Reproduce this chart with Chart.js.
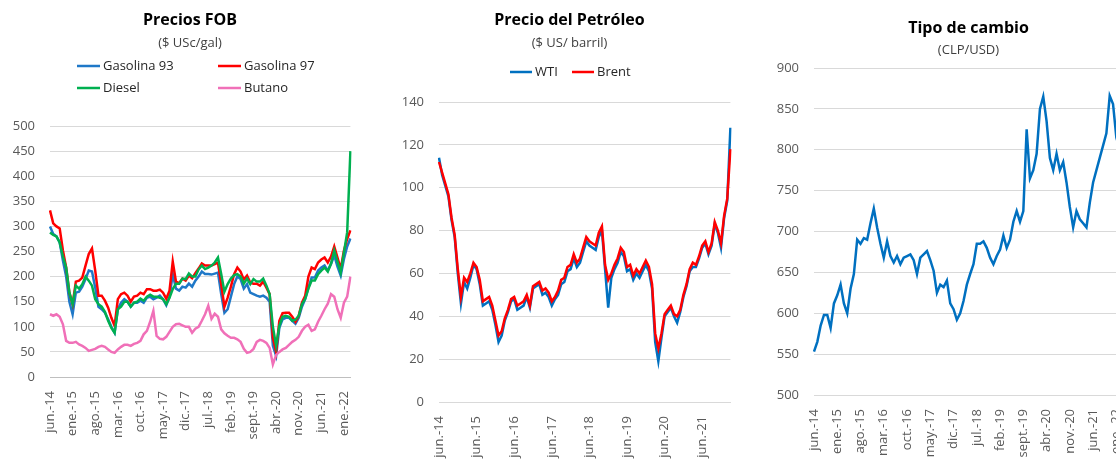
<!DOCTYPE html>
<html><head><meta charset="utf-8">
<script src="https://cdn.jsdelivr.net/npm/chart.js@4/dist/chart.umd.min.js"></script>
<style>
html,body{margin:0;padding:0;width:1116px;height:460px;overflow:hidden;background:#fff;}
canvas{position:absolute;top:0;}
#c1{left:0}#c2{left:380px}#c3{left:750px}
</style></head><body>
<canvas id="c1" width="380" height="460"></canvas>
<canvas id="c2" width="380" height="460"></canvas>
<canvas id="c3" width="424" height="460"></canvas>
<script>
// ---- categories (monthly, jun-14 .. mar-22) ----
const MESES = ['ene.','feb.','mar.','abr.','may.','jun.','jul.','ago.','sept.','oct.','nov.','dic.'];
const fechas = [];
for (let k = 0; k < 94; k++) { const m = (5 + k) % 12, a = 14 + Math.floor((5 + k) / 12); fechas.push(MESES[m] + '-' + a); }

// ---- Precios FOB (USc/gal) ----
const gasolina93 = [300,285,280,268,232,200,150,125,168,170,
 180,195,212,210,178,140,135,128,115,100,
 88,135,148,155,150,140,148,148,152,148,
 158,160,155,158,162,155,143,160,205,176,
 172,180,178,186,180,192,200,210,205,205,
 204,206,208,165,128,135,160,185,200,195,
 176,185,168,165,162,160,162,158,150,62,
 42,98,115,118,118,112,106,118,140,155,
 178,198,198,212,218,222,212,225,242,220,
 202,235,260,276];
const gasolina97 = [332,306,300,296,252,218,168,145,190,192,
 198,222,245,256,212,162,162,152,138,118,
 102,155,165,168,162,150,160,162,168,165,
 175,175,172,172,174,168,156,172,230,190,
 187,196,192,202,197,207,216,226,222,222,
 222,225,228,185,140,158,180,205,218,210,
 194,202,188,186,186,182,190,178,165,78,
 50,112,127,128,128,120,110,122,148,162,
 200,218,215,228,234,238,228,240,260,238,
 215,252,275,292];
const diesel = [288,283,280,268,240,218,168,145,182,176,
 185,200,192,182,155,145,140,130,112,98,
 88,135,140,150,150,140,148,150,156,152,
 160,164,160,160,158,155,145,158,175,186,
 186,196,195,206,200,200,214,222,215,218,
 222,228,238,205,170,185,196,203,205,200,
 186,196,185,195,190,190,196,182,165,100,
 62,102,120,122,120,112,114,122,145,156,
 176,192,192,205,212,218,210,226,252,230,
 208,248,288,450];
const butano = [125,122,125,120,105,72,68,68,70,65,
 62,58,52,54,56,60,62,60,55,50,
 48,55,60,64,64,62,66,68,72,85,
 92,110,132,82,76,75,80,90,100,105,
 106,103,100,100,88,96,100,112,125,142,
 116,126,120,95,87,82,78,78,75,70,
 56,48,50,56,70,74,72,68,58,25,
 44,50,55,58,64,70,74,80,92,100,
 104,92,95,110,122,135,146,165,160,135,
 118,148,160,200];

// ---- Precio del Petróleo (US$/barril) ----
const wti = [114,106,101,96,85,77,60,46,56,53,
 58,64,62,55,45,46,47,43,36,28,
 31,38,42,47,48,43,44,45,49,44,
 53,54,55,50,51,49,45,48,50,55,
 56,61,62,67,63,65,70,75,73,72,
 71,77,80,62,44,58,62,65,70,68,
 61,62,57,60,58,61,64,61,53,28,
 19,30,40,42,44,40,37,42,49,54,
 61,63,63,67,72,74,69,73,83,79,
 72,86,94,128];
const brent = [112,107,102,97,86,78,62,49,58,56,
 60,65,63,57,47,48,49,45,38,31,
 33,39,43,48,49,45,46,47,50,45,
 54,55,56,52,53,51,47,49,52,57,
 58,63,64,69,65,67,72,77,75,74,
 73,79,82,64,57,60,64,67,72,70,
 63,64,59,62,60,63,66,63,55,32,
 25,32,41,43,45,41,40,43,50,55,
 62,65,64,68,73,75,70,74,84,80,
 74,87,95,118];

// ---- Tipo de cambio (CLP/USD) ----
const clpusd = [553,565,585,598,598,582,612,622,635,612,
 600,630,648,690,685,692,690,710,728,705,
 685,668,688,670,662,670,660,668,670,672,
 665,648,668,672,676,665,652,625,635,632,
 640,612,605,592,600,615,635,648,660,685,
 685,688,680,668,660,670,678,695,680,690,
 712,725,712,725,825,765,775,795,850,865,
 835,790,775,795,775,785,760,730,705,725,
 715,710,705,735,760,775,790,805,820,866,
 856,815,800,800];

const FONT = "'Open Sans','Noto Sans',sans-serif";

const gridLegend = {
  id: 'gridLegend',
  afterDraw(chart, args, opts) {
    if (!opts || !opts.cols) return;
    const ctx = chart.ctx;
    ctx.save();
    ctx.font = '13px ' + FONT;
    ctx.textBaseline = 'middle';
    ctx.textAlign = 'left';
    chart.data.datasets.forEach((ds, i) => {
      const col = i % opts.cols, row = Math.floor(i / opts.cols);
      const x = opts.x + col * opts.colW, y = opts.y + row * opts.rowH;
      ctx.strokeStyle = ds.borderColor; ctx.lineWidth = 2.5;
      ctx.beginPath(); ctx.moveTo(x, y); ctx.lineTo(x + opts.swatch, y); ctx.stroke();
      ctx.fillStyle = '#262626';
      ctx.fillText(ds.label, x + opts.swatch + 3, y);
    });
    ctx.restore();
  }
};

function makeOptions(cfg) {
  return {
    responsive: false, animation: false,
    layout: { padding: { left: cfg.padL, right: cfg.padR, top: cfg.padT, bottom: 0 } },
    plugins: {
      legend: { display: false },
      tooltip: { enabled: false },
      title: { display: true, fullSize: cfg.fullTitle, text: cfg.title, color: '#000', font: { family: FONT, size: 16, weight: 'bold' }, padding: { top: 0, bottom: 0 } },
      subtitle: { display: true, fullSize: cfg.fullTitle, text: cfg.subtitle, color: '#404040', font: { family: FONT, size: 13 }, padding: { top: cfg.subPT, bottom: cfg.subPB } },
      gridLegend: cfg.legend
    },
    scales: {
      x: {
        type: 'category', offset: false,
        grid: { display: false, drawTicks: false },
        border: { display: true, color: cfg.axisColor, width: 1 },
        ticks: {
          autoSkip: false, maxRotation: 90, minRotation: 90, padding: 14,
          color: '#595959', font: { family: FONT, size: 13 },
          callback: function (v, i) { return i % cfg.every === 0 ? this.getLabelForValue(v) : ''; }
        },
        afterFit: s => { s.height = cfg.xH; }
      },
      y: {
        min: cfg.min, max: cfg.max,
        ticks: { stepSize: cfg.step, padding: 15, color: '#595959', font: { family: FONT, size: 13 } },
        grid: { color: '#d9d9d9', drawTicks: false, lineWidth: 1 },
        border: { display: false },
        afterFit: s => { s.width = cfg.yW; }
      }
    },
    elements: { point: { radius: 0 }, line: { borderWidth: 2.5, tension: 0 } }
  };
}

function line(label, data, color, order) {
  return { label, data, borderColor: color, backgroundColor: color, fill: false, order, borderWidth: 2.5, pointRadius: 0 };
}

new Chart(document.getElementById('c1'), {
  type: 'line',
  data: { labels: fechas, datasets: [
    line('Gasolina 93', gasolina93, '#1f78c8', 3),
    line('Gasolina 97', gasolina97, '#ff0000', 2),
    line('Diesel', diesel, '#00b050', 1),
    line('Butano', butano, '#f070b8', 0)
  ] },
  options: makeOptions({ title: 'Precios FOB', subtitle: '($ USc/gal)', fullTitle: true, padL: 12, padR: 12, padT: 11, subPT: 5, subPB: 75.2,
    yW: 38, xH: 83, min: 0, max: 500, step: 50, every: 7, axisColor: '#bfbfbf',
    legend: { x: 77, y: 66, cols: 2, colW: 141, rowH: 22, swatch: 23 } }),
  plugins: [gridLegend]
});

new Chart(document.getElementById('c2'), {
  type: 'line',
  data: { labels: fechas, datasets: [
    line('WTI', wti, '#0070c0', 1),
    line('Brent', brent, '#ff0000', 0)
  ] },
  options: makeOptions({ title: 'Precio del Petróleo', subtitle: '($ US/ barril)', fullTitle: true, padL: 22, padR: 23, padT: 10.4, subPT: 5.6, subPB: 51.2,
    yW: 37, xH: 58, min: 0, max: 140, step: 20, every: 12, axisColor: '#d9d9d9',
    legend: { x: 130, y: 72, cols: 2, colW: 62, rowH: 22, swatch: 22 } }),
  plugins: [gridLegend]
});

new Chart(document.getElementById('c3'), {
  type: 'line',
  data: { labels: fechas, datasets: [
    line('CLP/USD', clpusd, '#0070c0', 0)
  ] },
  options: makeOptions({ title: 'Tipo de cambio', subtitle: '(CLP/USD)', fullTitle: false, padL: 0, padR: 51, padT: 18.4, subPT: 4.6, subPB: 10.2,
    yW: 64, xH: 65, min: 500, max: 900, step: 50, every: 7, axisColor: '#d9d9d9', legend: {} }),
  plugins: [gridLegend]
});
</script>
</body></html>
